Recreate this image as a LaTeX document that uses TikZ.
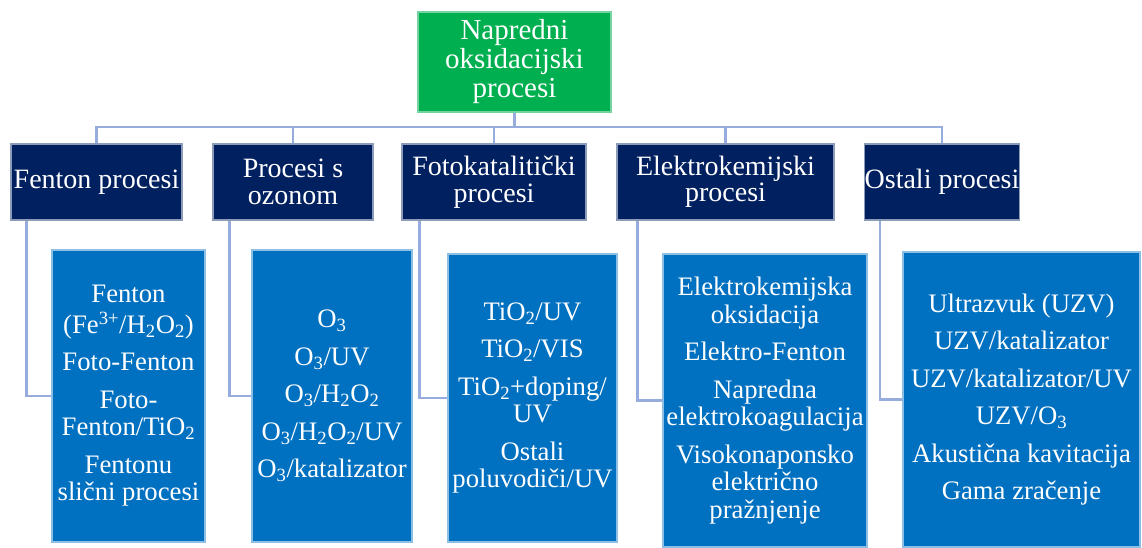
\documentclass[tikz,border=0pt]{standalone}
\usepackage{fontspec}
\setmainfont{Liberation Serif}
\definecolor{topgreen}{RGB}{0,176,80}
\definecolor{navy}{RGB}{0,32,96}
\definecolor{midblue}{RGB}{0,112,192}
\definecolor{linkcol}{RGB}{150,172,222}
\begin{document}
\begin{tikzpicture}[x=1pt,y=-1pt,
  topbox/.style={fill=topgreen, draw=topgreen!55!white, line width=1.2pt, text=white, align=center, inner sep=0pt,
     font=\fontsize{29}{29}\selectfont},
  catbox/.style={fill=navy, draw=navy!45!white, line width=1.2pt, text=white, align=center, inner sep=0pt,
     minimum height=76pt, font=\fontsize{28}{26.5}\selectfont},
  listbox/.style={fill=midblue, draw=midblue!45!white, line width=1.2pt, text=white, align=center, inner sep=0pt,
     font=\fontsize{26.7}{27.5}\selectfont},
  link/.style={draw=linkcol, line width=2.2pt}
]
\useasboundingbox (0,0) rectangle (1142,547);
% top
\node[topbox, minimum width=193pt, minimum height=100pt] (top) at (514.5,62) {Napredni\\oksidacijski\\procesi};
% level 2
\node[catbox, minimum width=171pt] (f2) at (96.5,182) {Fenton procesi};
\node[catbox, minimum width=160pt] (o2) at (293,182) {Procesi s\\ozonom};
\node[catbox, minimum width=184pt] (k2) at (494,182) {Fotokatalitički\\procesi};
\node[catbox, minimum width=217pt] (e2) at (725.5,182) {Elektrokemijski\\procesi};
\node[catbox, minimum width=152pt] (s2) at (942,182) {Ostali procesi};
% level 3
\node[listbox, minimum width=153pt, minimum height=292pt] (f3) at (128.5,396)
  {Fenton\\[3pt](Fe\textsuperscript{3+}/H\textsubscript{2}O\textsubscript{2})\\[10pt]Foto-Fenton\\[10pt]Foto-\\Fenton/TiO\textsubscript{2}\\[10pt]Fentonu\\slični procesi};
\node[listbox, minimum width=160pt, minimum height=292pt] (o3) at (332,396)
  {O\textsubscript{3}\\[10pt]O\textsubscript{3}/UV\\[10pt]O\textsubscript{3}/H\textsubscript{2}O\textsubscript{2}\\[10pt]O\textsubscript{3}/H\textsubscript{2}O\textsubscript{2}/UV\\[10pt]O\textsubscript{3}/katalizator};
\node[listbox, minimum width=169pt, minimum height=288pt] (k3) at (532.5,398)
  {TiO\textsubscript{2}/UV\\[10pt]TiO\textsubscript{2}/VIS\\[10pt]TiO\textsubscript{2}+doping/\\UV\\[10pt]Ostali\\poluvodiči/UV};
\node[listbox, minimum width=204pt, minimum height=293pt] (e3) at (765,400.5)
  {Elektrokemijska\\oksidacija\\[10pt]Elektro-Fenton\\[10pt]Napredna\\elektrokoagulacija\\[10pt]Visokonaponsko\\električno\\pražnjenje};
\node[listbox, minimum width=237pt, minimum height=295pt] (s3) at (1021.5,399.5)
  {Ultrazvuk (UZV)\\[10pt]UZV/katalizator\\[10pt]UZV/katalizator/UV\\[10pt]UZV/O\textsubscript{3}\\[10pt]Akustična kavitacija\\[10pt]Gama zračenje};
% connectors
\coordinate (bus) at (0,127);
\foreach \n in {f2,o2,k2,e2,s2}{
  \draw[link] (top.south) -- (top.south |- bus) -| (\n.north);
}
\draw[link] ([xshift=16pt]f2.south west) |- (f3.west);
\draw[link] ([xshift=17pt]o2.south west) |- (o3.west);
\draw[link] ([xshift=18pt]k2.south west) |- (k3.west);
\draw[link] ([xshift=21pt]e2.south west) |- (e3.west);
\draw[link] ([xshift=16pt]s2.south west) |- (s3.west);
\end{tikzpicture}
\end{document}
